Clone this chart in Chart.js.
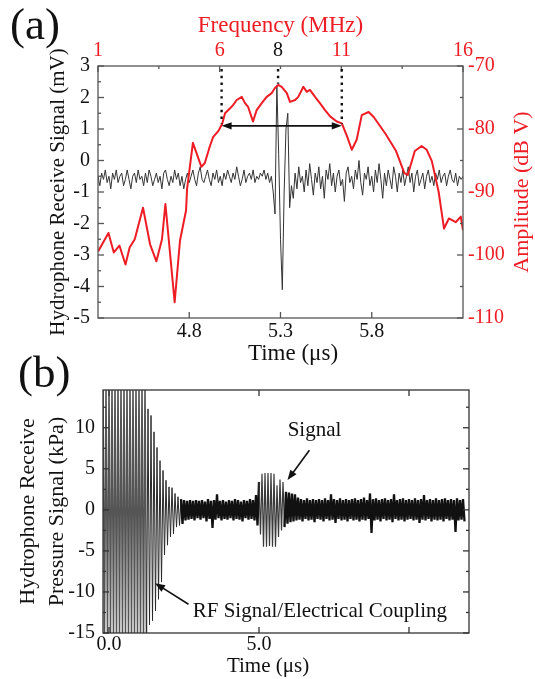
<!DOCTYPE html>
<html>
<head>
<meta charset="utf-8">
<script src="https://cdn.jsdelivr.net/npm/chart.js@4.4.1/dist/chart.umd.min.js"></script>
<style>
  body { margin: 0; background: #fff; }
  #wrap { position: relative; width: 535px; height: 679px; overflow: hidden; font-family: 'Liberation Serif', 'Times New Roman', serif; }
  canvas { position: absolute; left: 0; }
  #chartA { top: 0; }
  #chartB { top: 370px; }
  .panel { position: absolute; font-size: 45px; line-height: 1; color: #111; z-index: 2; }
</style>
</head>
<body>
<div id="wrap">
  <canvas id="chartA" width="535" height="370"></canvas>
  <canvas id="chartB" width="535" height="309"></canvas>
  <div class="panel" style="left:10px;top:2px">(a)</div>
  <div class="panel" style="left:18px;top:350px">(b)</div>
</div>
<script>
// ---------- panel (a): received pulse (time) + its spectrum (frequency)
const timeStartA = 4.30;   // us, first sample
const timeStepA = 0.01;    // us between samples
const signalA = [
  -0.5,-0.8,-0.4,-0.6,-0.3,-0.7,-0.5,-0.9,-0.4,-0.6,
  -0.3,-0.7,-0.5,-0.4,-0.8,-0.6,-0.3,-0.6,-0.9,-0.5,
  -0.4,-0.7,-0.3,-0.6,-0.5,-0.8,-0.4,-0.7,-0.3,-0.5,
  -0.8,-0.6,-0.4,-0.7,-0.5,-0.9,-0.4,-0.3,-0.6,-0.8,
  -0.5,-0.7,-0.3,-0.6,-0.4,-0.8,-0.5,-0.9,-0.6,-0.4,
  -0.7,-0.5,-0.3,-0.6,-0.8,-0.4,-0.2,-0.6,-0.7,-0.5,
  -0.3,-0.6,-0.8,-0.4,-0.6,-0.3,-0.7,-0.5,-0.8,-0.4,
  -0.6,-0.3,-0.5,-0.7,-0.4,-0.6,-0.2,-0.5,-0.8,-0.6,
  -0.3,-0.7,-0.5,-0.4,-0.6,-0.3,-0.7,-0.5,-0.6,-0.4,
  -0.5,-0.3,-0.6,-0.4,-0.7,-0.5,-1.0,-1.7,2.4,0.2,
  -2.5,-4.1,-1.0,1.0,1.5,-1.5,-0.8,-1.2,-0.4,-0.9,
  -0.2,-0.7,-0.5,-1.0,-0.3,-0.8,-0.1,-0.6,-1.1,-0.4,
  -0.7,-0.2,-0.9,-0.5,-1.2,-0.3,-0.6,-0.1,-0.8,-0.4,
  -1.0,-0.5,-0.3,-0.8,-0.6,-1.3,-0.4,-0.2,-0.7,-0.5,
  -0.9,-0.3,-0.6,0.0,-0.7,-1.1,-0.4,-0.6,-0.2,-0.8,
  -0.5,-1.0,-0.3,-0.7,-0.1,-0.6,-1.2,-0.4,-0.8,-0.3,
  -0.6,-0.9,-0.2,-0.5,-1.0,-0.4,-0.7,-0.3,-0.8,-0.5,
  -0.2,-0.7,-0.4,-1.0,-0.5,-0.3,-0.8,-0.6,-0.4,-0.9,
  -0.5,-0.3,-0.7,-0.5,-0.8,-0.4,-0.6,-0.3,-0.7,-0.5,
  -0.4,-0.8,-0.5,-0.3,-0.6,-0.7,-0.4,-0.8,-0.5,-0.6,
  -0.5
];
const freqA = [
  1.01, 1.43, 1.65, 1.88, 2.13, 2.30, 2.51, 2.85, 3.14, 3.40,
  3.63, 3.77, 4.15, 4.37, 4.62, 4.66, 4.90, 5.25, 5.39, 5.60,
  5.73, 5.95, 6.10, 6.22, 6.43, 6.55, 6.70, 6.91, 7.04, 7.17,
  7.37, 7.52, 7.73, 7.93, 8.14, 8.27, 8.41, 8.55, 8.76, 8.89,
  9.10, 9.23, 9.44, 9.58, 9.71, 9.92, 10.12, 10.33, 10.54, 10.81,
  11.02, 11.22, 11.43, 11.63, 11.84, 12.12, 12.33, 12.82, 13.25, 13.59,
  13.73, 14.02, 14.30, 14.51, 14.72, 15.00, 15.22, 15.42, 15.70, 15.91,
  16.00
];
const ampA = [
  -99.4, -96.5, -99.6, -98.5, -101.5, -98.8, -97.5, -92.5, -98.3, -101.0,
  -97.5, -91.9, -107.5, -97.7, -92.9, -89.5, -82.2, -86.0, -85.4, -82.7,
  -81.3, -80.3, -79.2, -77.5, -76.7, -76.2, -75.4, -74.9, -75.9, -76.5,
  -78.8, -77.0, -75.9, -74.9, -74.3, -73.5, -73.0, -73.3, -74.3, -75.7,
  -75.4, -74.9, -73.3, -74.1, -73.8, -74.9, -75.9, -77.0, -78.0, -78.8,
  -79.1, -81.0, -83.3, -81.7, -77.8, -77.3, -78.1, -80.8, -83.5, -87.0,
  -87.3, -83.5, -82.7, -83.3, -85.1, -90.0, -95.8, -94.2, -94.8, -93.9,
  -96.1
];
const timeTicksA = [4.8, 5.3, 5.8];
const freqTicksA = [1, 6, 11, 16];
const freqMinorA = [3.5, 8.5, 13.5];
const mvTicksA = [-5, -4, -3, -2, -1, 0, 1, 2, 3];
const mvMinorA = [-4.5, -3.5, -2.5, -1.5, -0.5, 0.5, 1.5, 2.5];
const dbTicksA = [-110, -100, -90, -80, -70];
const dbMinorA = [-105, -95, -85, -75];
const bandEdgesA = [6.08, 11.02];  // MHz, -6 dB band
const centreFreqA = 8.4;           // MHz, where the "8" mark sits
const bandLevelA = -79.5;          // dB V, level of the band arrow

// ---------- panel (b): full record, min/max of each 0.1 us bin
const binStartB = -0.2;
const binStepB = 0.1;
const highB = [
  16, 16, 16, 16, 16, 16, 16, 16, 16, 16, 16, 16, 16, 16, 16,
  12.3, 11.5, 9.5, 7.6, 6.0, 4.8, 3.6,
  2.8, 2.7, 2.0, 1.6, 1.3, 1.2, 1.1, 1.2, 1.1, 1.2,
  1.1, 1.2, 1.0, 1.3, 1.1, 1.2, 1.9, 1.1, 1.2, 1.0,
  1.2, 1.1, 1.3, 1.2, 1.0, 1.2, 1.1, 1.3, 1.2, 1.8,
  3.4, 4.4, 4.5, 4.5, 4.5, 4.4, 3.0, 3.7, 3.4, 2.2,
  2.1, 2.0, 1.9, 1.5, 1.3, 1.2, 1.4, 1.2, 1.3, 1.2,
  1.3, 1.2, 1.4, 1.2, 1.9, 1.3, 1.2, 1.4, 1.2, 1.3,
  1.2, 1.3, 1.4, 1.2, 1.3, 1.5, 1.2, 2.0, 1.3, 1.4,
  1.2, 1.3, 1.4, 1.2, 1.3, 1.9, 1.2, 1.3, 1.4, 1.2,
  1.3, 1.2, 1.4, 1.2, 1.3, 1.8, 1.2, 1.3, 1.2, 1.4,
  1.2, 1.3, 1.4, 1.2, 1.3, 1.2, 1.4, 1.2, 1.3
];
const lowB = [
  -16, -16, -16, -16, -16, -16, -16, -16, -16, -16, -16, -16, -16, -16, -16,
  -14, -13.5, -12.3, -10.9, -8.8, -5.5, -4.3,
  -3.3, -2.9, -2.1, -1.9, -1.7, -1.3, -1.2, -1.1, -1.3, -1.0,
  -1.2, -1.0, -1.4, -1.1, -2.2, -1.2, -1.0, -1.3, -1.1, -1.2,
  -1.0, -1.3, -1.1, -1.2, -1.4, -1.0, -1.2, -1.1, -1.3, -1.9,
  -3.0, -4.5, -4.5, -4.4, -4.5, -4.5, -3.3, -2.5, -2.1, -1.7,
  -1.5, -1.4, -1.3, -1.2, -1.4, -1.1, -1.3, -1.2, -1.5, -1.1,
  -1.2, -1.4, -1.1, -1.3, -1.2, -1.6, -1.1, -1.3, -1.2, -1.4,
  -1.1, -1.3, -1.2, -1.4, -1.2, -1.3, -1.1, -2.8, -1.3, -1.2,
  -1.4, -1.1, -1.3, -1.2, -1.5, -1.1, -1.3, -1.2, -1.4, -1.2,
  -1.1, -1.3, -1.2, -1.6, -1.2, -1.3, -1.1, -1.4, -1.2, -1.3,
  -1.2, -1.4, -1.1, -1.3, -1.2, -2.7, -1.3, -1.2, -1.4
];
const timeTicksB = [0, 5, 10];
const timeLabelsB = [0, 5];
const kpaTicksB = [-15, -10, -5, 0, 5, 10];
const kpaMinorB = [-12.5, -7.5, -2.5, 2.5, 7.5, 12.5];

const serif = "'Liberation Serif', 'Times New Roman', serif";
const red = '#ee1c24';
const ink = '#111';

// box round the plot area plus inward tick marks (Origin style)
function makeFrame(id, color, marks) {
  return {
    id: id,
    afterDatasetsDraw(chart) {
      const ctx = chart.ctx, a = chart.chartArea;
      ctx.save();
      ctx.strokeStyle = color;
      ctx.lineWidth = 1.3;
      ctx.strokeRect(a.left, a.top, a.right - a.left, a.bottom - a.top);
      marks.forEach(m => {
        const s = chart.scales[m.axis];
        [[m.major, 6], [m.minor || [], 3]].forEach(([vals, len]) => {
          vals.forEach(v => {
            const p = s.getPixelForValue(v);
            ctx.beginPath();
            if (m.edge === 'bottom') { ctx.moveTo(p, a.bottom); ctx.lineTo(p, a.bottom - len); }
            if (m.edge === 'top') { ctx.moveTo(p, a.top); ctx.lineTo(p, a.top + len); }
            if (m.edge === 'left') { ctx.moveTo(a.left, p); ctx.lineTo(a.left + len, p); }
            if (m.edge === 'right') { ctx.moveTo(a.right, p); ctx.lineTo(a.right - len, p); }
            ctx.stroke();
          });
        });
      });
      ctx.restore();
    }
  };
}

function arrowHead(ctx, x1, y1, x2, y2, len, half) {
  const ang = Math.atan2(y2 - y1, x2 - x1);
  const c = Math.cos(ang), s = Math.sin(ang);
  ctx.beginPath();
  ctx.moveTo(x2, y2);
  ctx.lineTo(x2 - len * c + half * s, y2 - len * s - half * c);
  ctx.lineTo(x2 - len * c - half * s, y2 - len * s + half * c);
  ctx.closePath();
  ctx.fill();
}

function arrow(ctx, x1, y1, x2, y2, len, half) {
  const ang = Math.atan2(y2 - y1, x2 - x1);
  ctx.beginPath();
  ctx.moveTo(x1, y1);
  ctx.lineTo(x2 - Math.cos(ang) * len * 0.7, y2 - Math.sin(ang) * len * 0.7);
  ctx.stroke();
  arrowHead(ctx, x1, y1, x2, y2, len, half);
}

const notesA = {
  id: 'notesA',
  afterDatasetsDraw(chart) {
    const { ctx, chartArea: a, scales } = chart;
    const fx = scales.x2, dy = scales.y2;
    ctx.save();
    // dotted markers at band edges and centre
    ctx.strokeStyle = ink;
    ctx.lineWidth = 2.4;
    ctx.setLineDash([2.4, 4.4]);
    bandEdgesA.forEach(f => {
      const px = fx.getPixelForValue(f);
      ctx.beginPath();
      ctx.moveTo(px, a.top + 3);
      ctx.lineTo(px, dy.getPixelForValue(-79.2));
      ctx.stroke();
    });
    const cx = fx.getPixelForValue(centreFreqA);
    ctx.beginPath();
    ctx.moveTo(cx, a.top + 3);
    ctx.lineTo(cx, dy.getPixelForValue(-72.8));
    ctx.stroke();
    ctx.setLineDash([]);
    // double arrow across the band
    ctx.fillStyle = ink;
    ctx.lineWidth = 1.6;
    const xl = fx.getPixelForValue(bandEdgesA[0]), xr = fx.getPixelForValue(bandEdgesA[1]);
    const yb = dy.getPixelForValue(bandLevelA);
    ctx.beginPath();
    ctx.moveTo(xl + 6, yb);
    ctx.lineTo(xr - 6, yb);
    ctx.stroke();
    arrowHead(ctx, xr, yb, xl, yb, 10, 3.6);
    arrowHead(ctx, xl, yb, xr, yb, 10, 3.6);
    // "8" mark on the frequency axis
    ctx.font = '20px ' + serif;
    ctx.textAlign = 'center';
    ctx.textBaseline = 'middle';
    ctx.fillText('8', cx, a.top - 15);
    // bottom title
    ctx.font = '23px ' + serif;
    ctx.fillText('Time (\u03bcs)', a.left + 195, a.bottom + 36);
    // right title, reading bottom to top
    ctx.fillStyle = red;
    ctx.font = '22px ' + serif;
    ctx.translate(a.right + 59, (a.top + a.bottom) / 2);
    ctx.rotate(-Math.PI / 2);
    ctx.fillText('Amplitude (dB V)', 0, 0);
    ctx.restore();
  }
};

const notesB = {
  id: 'notesB',
  afterDatasetsDraw(chart) {
    const { ctx, chartArea: a, scales: { x, y } } = chart;
    ctx.save();
    ctx.fillStyle = ink;
    ctx.strokeStyle = ink;
    ctx.lineWidth = 1.6;
    ctx.textBaseline = 'middle';
    ctx.font = '21px ' + serif;
    ctx.textAlign = 'center';
    ctx.fillText('Signal', x.getPixelForValue(6.85), y.getPixelForValue(9.65));
    arrow(ctx, x.getPixelForValue(6.68), y.getPixelForValue(7.25),
      x.getPixelForValue(5.95), y.getPixelForValue(3.63), 10, 3.8);
    ctx.textAlign = 'left';
    ctx.fillText('RF Signal/Electrical Coupling', x.getPixelForValue(2.79), y.getPixelForValue(-12.4));
    arrow(ctx, x.getPixelForValue(2.65), y.getPixelForValue(-11.5),
      x.getPixelForValue(1.535), y.getPixelForValue(-8.93), 10, 3.8);
    ctx.textAlign = 'center';
    ctx.fillText('Time (\u03bcs)', a.left + 165, a.bottom + 33);
    ctx.restore();
  }
};

const tickFont = { family: serif, size: 20 };
const noGrid = { display: false, drawTicks: false };
const noBorder = { display: false };
const fixTicks = vals => s => { s.ticks = vals.map(v => ({ value: v })); };

new Chart(document.getElementById('chartA'), {
  type: 'line',
  data: {
    datasets: [
      {
        label: 'Amplitude',
        data: freqA.map((f, i) => ({ x: f, y: ampA[i] })),
        xAxisID: 'x2', yAxisID: 'y2',
        borderColor: red, borderWidth: 2, pointRadius: 0, tension: 0, borderJoinStyle: 'round'
      },
      {
        label: 'Hydrophone signal',
        data: signalA.map((v, i) => ({ x: timeStartA + i * timeStepA, y: v })),
        xAxisID: 'x', yAxisID: 'y',
        borderColor: '#333', borderWidth: 1, pointRadius: 0, tension: 0, borderJoinStyle: 'round'
      }
    ]
  },
  options: {
    responsive: false,
    animation: false,
    layout: { padding: 0 },
    plugins: { legend: { display: false }, tooltip: { enabled: false } },
    scales: {
      x: {
        type: 'linear', position: 'bottom', min: 4.3, max: 6.3,
        grid: noGrid, border: noBorder,
        ticks: { font: tickFont, color: ink, padding: 2, autoSkip: false, maxRotation: 0, callback: v => v.toFixed(1) },
        afterBuildTicks: fixTicks(timeTicksA),
        afterFit: s => { s.height = 52; }
      },
      x2: {
        type: 'linear', position: 'top', min: 1, max: 16,
        grid: noGrid, border: noBorder,
        ticks: { font: tickFont, color: red, padding: 3, autoSkip: false, maxRotation: 0, callback: v => String(v) },
        afterBuildTicks: fixTicks(freqTicksA),
        title: { display: true, text: 'Frequency (MHz)', color: red, font: { family: serif, size: 23 }, padding: { top: 12, bottom: 0 } },
        afterFit: s => { s.height = 66; }
      },
      y: {
        type: 'linear', position: 'left', min: -5, max: 3,
        grid: noGrid, border: noBorder,
        ticks: { font: tickFont, color: ink, padding: 8, callback: v => String(v) },
        afterBuildTicks: fixTicks(mvTicksA),
        title: { display: true, text: 'Hydrophone Receive Signal (mV)', color: ink, font: { family: serif, size: 21 }, padding: { top: 46, bottom: 0 } },
        afterFit: s => { s.width = 98; }
      },
      y2: {
        type: 'linear', position: 'right', min: -110, max: -70,
        grid: noGrid, border: noBorder,
        ticks: { font: tickFont, color: red, padding: 5, callback: v => String(v) },
        afterBuildTicks: fixTicks(dbTicksA),
        afterFit: s => { s.width = 72; }
      }
    }
  },
  plugins: [
    makeFrame('frameA', '#555', [
      { axis: 'x', edge: 'bottom', major: timeTicksA },
      { axis: 'x2', edge: 'top', major: freqTicksA, minor: freqMinorA },
      { axis: 'y', edge: 'left', major: mvTicksA, minor: mvMinorA },
      { axis: 'y2', edge: 'right', major: dbTicksA, minor: dbMinorA }
    ]),
    notesA
  ]
});

// zig-zag between each bin's max and min, like the dense raw trace
const traceB = [];
highB.forEach((hi, i) => {
  const t = binStartB + i * binStepB;
  traceB.push({ x: t, y: hi });
  traceB.push({ x: t + binStepB / 2, y: lowB[i] });
});

// stroke look per stretch of the record: RF coupling, ring-down, burst, noise
function segColor(c) {
  const t = c.p0.parsed.x;
  if (t < 1.25) return '#555';
  if (t < 2.35) return '#2a2a2a';
  if (t > 4.95 && t < 5.85) return '#3a3a3a';
  return '#111';
}
function segWidth(c) {
  const t = c.p0.parsed.x;
  if (t < 1.25) return 1.5;
  if (t < 2.35) return 1;
  if (t > 4.95 && t < 5.85) return 1.2;
  return 2.3;
}

new Chart(document.getElementById('chartB'), {
  type: 'line',
  data: {
    datasets: [{
      label: 'Pressure',
      data: traceB,
      borderColor: '#111', borderWidth: 1, pointRadius: 0, tension: 0, clip: 0,
      borderJoinStyle: 'bevel',
      segment: { borderColor: segColor, borderWidth: segWidth }
    }]
  },
  options: {
    responsive: false,
    animation: false,
    layout: { padding: { top: 12, right: 66, left: 0, bottom: 0 } },
    plugins: { legend: { display: false }, tooltip: { enabled: false } },
    scales: {
      x: {
        type: 'linear', position: 'bottom', min: -0.2, max: 12,
        grid: noGrid, border: noBorder,
        ticks: { font: tickFont, color: ink, padding: 0, autoSkip: false, maxRotation: 0, callback: v => v.toFixed(1) },
        afterBuildTicks: fixTicks(timeLabelsB),
        afterFit: s => { s.height = 46; }
      },
      y: {
        type: 'linear', position: 'left', min: -15, max: 14.6,
        grid: noGrid, border: noBorder,
        ticks: { font: tickFont, color: ink, padding: 8, callback: v => String(v) },
        afterBuildTicks: fixTicks(kpaTicksB),
        title: {
          display: true, text: ['Hydrophone Receive', 'Pressure Signal (kPa)'], color: ink,
          font: { family: serif, size: 22, lineHeight: 1.32 }, padding: { top: 13.5, bottom: 0 }
        },
        afterFit: s => { s.width = 103; }
      }
    }
  },
  plugins: [
    makeFrame('frameB', '#333', [
      { axis: 'x', edge: 'bottom', major: timeTicksB },
      { axis: 'x', edge: 'top', major: timeTicksB },
      { axis: 'y', edge: 'left', major: kpaTicksB, minor: kpaMinorB },
      { axis: 'y', edge: 'right', major: kpaTicksB, minor: kpaMinorB }
    ]),
    notesB
  ]
});
</script>
</body>
</html>
